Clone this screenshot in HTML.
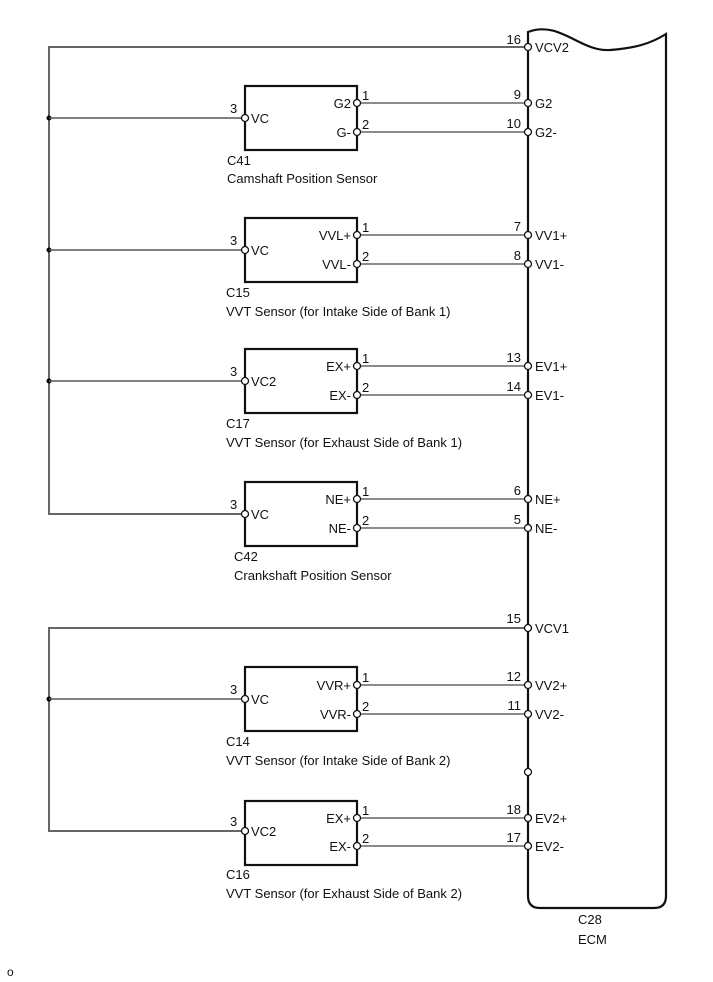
<!DOCTYPE html>
<html><head><meta charset="utf-8"><style>
html,body{margin:0;padding:0;background:#fff;}
svg{display:block;font-family:"Liberation Sans",Arial,sans-serif;font-size:13px;}
</style></head><body>
<svg width="713" height="982" viewBox="0 0 713 982" xmlns="http://www.w3.org/2000/svg">
<path d="M528,32 C560,20 580,52 610,50 C635,48 650,44 666,34 L666,896 Q666,908 654,908 L540,908 Q528,908 528,896 Z" fill="none" stroke="#111" stroke-width="2.2"/>
<g stroke="#666" stroke-width="2" fill="none">
<path d="M528,47 H49 V514 H244"/>
<path d="M528,628 H49 V831 H244"/>
</g>
<g fill="#000"><circle cx="49" cy="118" r="2.5"/><circle cx="49" cy="250" r="2.5"/><circle cx="49" cy="381" r="2.5"/><circle cx="49" cy="699" r="2.5"/></g>
<g stroke="#555" stroke-width="1.5">
<line x1="49" y1="118" x2="244" y2="118"/><line x1="49" y1="250" x2="244" y2="250"/><line x1="49" y1="381" x2="244" y2="381"/><line x1="49" y1="699" x2="244" y2="699"/>
</g>
<g stroke="#666" stroke-width="1.6">
<line x1="357" y1="103" x2="528" y2="103"/><line x1="357" y1="132" x2="528" y2="132"/>
<line x1="357" y1="235" x2="528" y2="235"/><line x1="357" y1="264" x2="528" y2="264"/>
<line x1="357" y1="366" x2="528" y2="366"/><line x1="357" y1="395" x2="528" y2="395"/>
<line x1="357" y1="499" x2="528" y2="499"/><line x1="357" y1="528" x2="528" y2="528"/>
<line x1="357" y1="685" x2="528" y2="685"/><line x1="357" y1="714" x2="528" y2="714"/>
<line x1="357" y1="818" x2="528" y2="818"/><line x1="357" y1="846" x2="528" y2="846"/>
</g>
<g fill="none" stroke="#111" stroke-width="2.2">
<rect x="245" y="86" width="112" height="64"/>
<rect x="245" y="218" width="112" height="64"/>
<rect x="245" y="349" width="112" height="64"/>
<rect x="245" y="482" width="112" height="64"/>
<rect x="245" y="667" width="112" height="64"/>
<rect x="245" y="801" width="112" height="64"/>
</g>
<g fill="#fff" stroke="#111" stroke-width="1.3">
<circle cx="245" cy="118" r="3.5"/><circle cx="357" cy="103" r="3.5"/><circle cx="357" cy="132" r="3.5"/>
<circle cx="245" cy="250" r="3.5"/><circle cx="357" cy="235" r="3.5"/><circle cx="357" cy="264" r="3.5"/>
<circle cx="245" cy="381" r="3.5"/><circle cx="357" cy="366" r="3.5"/><circle cx="357" cy="395" r="3.5"/>
<circle cx="245" cy="514" r="3.5"/><circle cx="357" cy="499" r="3.5"/><circle cx="357" cy="528" r="3.5"/>
<circle cx="245" cy="699" r="3.5"/><circle cx="357" cy="685" r="3.5"/><circle cx="357" cy="714" r="3.5"/>
<circle cx="245" cy="831" r="3.5"/><circle cx="357" cy="818" r="3.5"/><circle cx="357" cy="846" r="3.5"/>
<circle cx="528" cy="47" r="3.5"/><circle cx="528" cy="103" r="3.5"/><circle cx="528" cy="132" r="3.5"/>
<circle cx="528" cy="235" r="3.5"/><circle cx="528" cy="264" r="3.5"/><circle cx="528" cy="366" r="3.5"/><circle cx="528" cy="395" r="3.5"/>
<circle cx="528" cy="499" r="3.5"/><circle cx="528" cy="528" r="3.5"/><circle cx="528" cy="628" r="3.5"/>
<circle cx="528" cy="685" r="3.5"/><circle cx="528" cy="714" r="3.5"/><circle cx="528" cy="772" r="3.5"/>
<circle cx="528" cy="818" r="3.5"/><circle cx="528" cy="846" r="3.5"/>
</g>
<g fill="#111">
<g text-anchor="end">
<text x="521" y="44">16</text><text x="521" y="99">9</text><text x="521" y="128">10</text>
<text x="521" y="231">7</text><text x="521" y="260">8</text><text x="521" y="362">13</text><text x="521" y="391">14</text>
<text x="521" y="495">6</text><text x="521" y="524">5</text><text x="521" y="623">15</text>
<text x="521" y="681">12</text><text x="521" y="710">11</text><text x="521" y="814">18</text><text x="521" y="842">17</text>
</g>
<text x="535" y="52">VCV2</text><text x="535" y="108">G2</text><text x="535" y="137">G2-</text>
<text x="535" y="240">VV1+</text><text x="535" y="269">VV1-</text><text x="535" y="371">EV1+</text><text x="535" y="400">EV1-</text>
<text x="535" y="504">NE+</text><text x="535" y="533">NE-</text><text x="535" y="633">VCV1</text>
<text x="535" y="690">VV2+</text><text x="535" y="719">VV2-</text><text x="535" y="823">EV2+</text><text x="535" y="851">EV2-</text>
<text x="578" y="924">C28</text><text x="578" y="944">ECM</text>
<g>
<text x="230" y="113">3</text><text x="251" y="123">VC</text>
<text x="230" y="245">3</text><text x="251" y="255">VC</text>
<text x="230" y="376">3</text><text x="251" y="386">VC2</text>
<text x="230" y="509">3</text><text x="251" y="519">VC</text>
<text x="230" y="694">3</text><text x="251" y="704">VC</text>
<text x="230" y="826">3</text><text x="251" y="836">VC2</text>
</g>
<g>
<text x="362" y="100">1</text><text x="362" y="129">2</text>
<text x="362" y="232">1</text><text x="362" y="261">2</text>
<text x="362" y="363">1</text><text x="362" y="392">2</text>
<text x="362" y="496">1</text><text x="362" y="525">2</text>
<text x="362" y="682">1</text><text x="362" y="711">2</text>
<text x="362" y="815">1</text><text x="362" y="843">2</text>
</g>
<g text-anchor="end">
<text x="351" y="108">G2</text><text x="351" y="137">G-</text>
<text x="351" y="240">VVL+</text><text x="351" y="269">VVL-</text>
<text x="351" y="371">EX+</text><text x="351" y="400">EX-</text>
<text x="351" y="504">NE+</text><text x="351" y="533">NE-</text>
<text x="351" y="690">VVR+</text><text x="351" y="719">VVR-</text>
<text x="351" y="823">EX+</text><text x="351" y="851">EX-</text>
</g>
<text x="227" y="165">C41</text><text x="227" y="183">Camshaft Position Sensor</text>
<text x="226" y="297">C15</text><text x="226" y="316">VVT Sensor (for Intake Side of Bank 1)</text>
<text x="226" y="428">C17</text><text x="226" y="447">VVT Sensor (for Exhaust Side of Bank 1)</text>
<text x="234" y="561">C42</text><text x="234" y="580">Crankshaft Position Sensor</text>
<text x="226" y="746">C14</text><text x="226" y="765">VVT Sensor (for Intake Side of Bank 2)</text>
<text x="226" y="879">C16</text><text x="226" y="898">VVT Sensor (for Exhaust Side of Bank 2)</text>
<text x="7" y="976" font-size="12">o</text>
</g>
</svg>
</body></html>
